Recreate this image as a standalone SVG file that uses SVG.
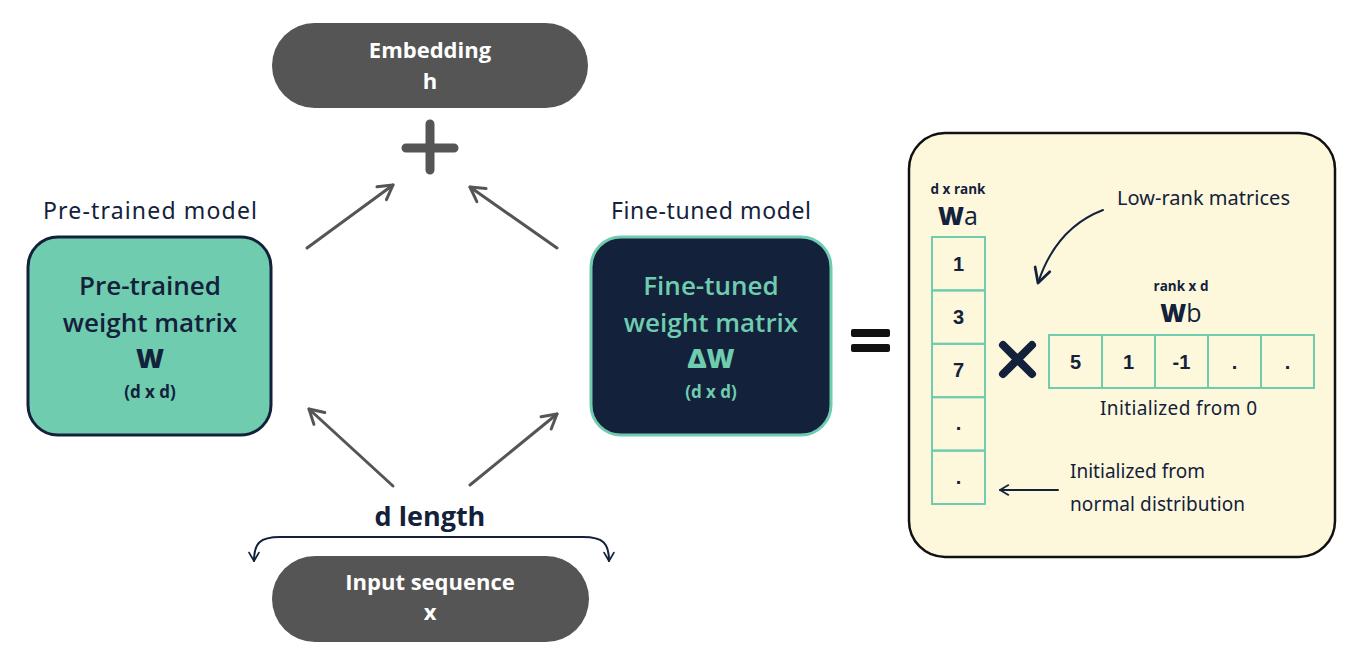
<svg xmlns="http://www.w3.org/2000/svg" width="1362" height="658" viewBox="0 0 1362 658">
<defs>
<style>
.pill{fill:#555555}
.pilltxt{font-family:"Open Sans","Liberation Sans",sans-serif;font-weight:700;fill:#ffffff;text-anchor:middle}
.main{font-family:"Open Sans","Liberation Sans",sans-serif;font-weight:600;text-anchor:middle}
.hand{font-family:"Noto Sans","DejaVu Sans",sans-serif;fill:#13213b}
.cell{fill:none;stroke:#6fccaf;stroke-width:2}
.num{font-family:"Liberation Sans",sans-serif;font-weight:700;font-size:20px;fill:#13213b;text-anchor:middle}
.small{font-family:"Open Sans","Liberation Sans",sans-serif;font-weight:700;font-size:13.5px;fill:#13213b;text-anchor:middle}
.conn{fill:none;stroke:#555555;stroke-width:3;stroke-linecap:round}
.navyline{fill:none;stroke:#13213b;stroke-width:2;stroke-linecap:round}
</style>
<marker id="ah" viewBox="0 0 20 20" refX="16" refY="10" markerWidth="20" markerHeight="20" markerUnits="userSpaceOnUse" orient="auto">
<path d="M2,2 L16,10 L2,18" fill="none" stroke="#555555" stroke-width="3" stroke-linecap="round" stroke-linejoin="round"/>
</marker>
<marker id="ahn" viewBox="0 0 20 20" refX="16" refY="10" markerWidth="14" markerHeight="14" markerUnits="userSpaceOnUse" orient="auto">
<path d="M4,3 L16,10 L4,17" fill="none" stroke="#13213b" stroke-width="2.5" stroke-linecap="round" stroke-linejoin="round"/>
</marker>
<marker id="ahns" viewBox="0 0 20 20" refX="16" refY="10" markerWidth="14" markerHeight="14" markerUnits="userSpaceOnUse" orient="auto-start-reverse">
<path d="M4,3 L16,10 L4,17" fill="none" stroke="#13213b" stroke-width="2.5" stroke-linecap="round" stroke-linejoin="round"/>
</marker>
<marker id="ahc" viewBox="0 0 20 20" refX="16" refY="10" markerWidth="22" markerHeight="22" markerUnits="userSpaceOnUse" orient="auto">
<path d="M3,3 L16,10 L3,17" fill="none" stroke="#13213b" stroke-width="2.5" stroke-linecap="round" stroke-linejoin="round"/>
</marker>
</defs>
<rect width="1362" height="658" fill="#ffffff"/>

<g id="embedding">
<rect class="pill" x="272" y="23" width="316" height="85" rx="42.5"/>
<text class="pilltxt" x="430" y="58" font-size="22">Embedding</text>
<text class="pilltxt" x="430" y="89" font-size="22">h</text>
</g>

<g id="plus">
<path d="M430,124 V170 M406,148 H454" stroke="#555555" stroke-width="9" stroke-linecap="round" fill="none"/>
</g>

<g id="pretrained">
<text class="hand" x="150" y="219" font-size="23" text-anchor="middle" textLength="214">Pre-trained model</text>
<rect x="28" y="237" width="243" height="198" rx="30" fill="#6fccaf" stroke="#13213b" stroke-width="3"/>
<text class="main" x="150" y="295" font-size="26" fill="#13213b">Pre-trained</text>
<text class="main" x="150" y="332" font-size="26" fill="#13213b">weight matrix</text>
<text class="main" x="150" y="368" font-size="27" fill="#13213b" style="font-weight:800">W</text>
<text class="main" x="150" y="398" font-size="17" fill="#13213b" style="font-weight:700">(d x d)</text>
</g>

<g id="finetuned">
<text class="hand" x="711" y="219" font-size="23" text-anchor="middle" textLength="200">Fine-tuned model</text>
<rect x="591" y="237" width="240" height="198" rx="30" fill="#13213b" stroke="#6fccaf" stroke-width="3"/>
<text class="main" x="711" y="295" font-size="26" fill="#6fccaf">Fine-tuned</text>
<text class="main" x="711" y="332" font-size="26" fill="#6fccaf">weight matrix</text>
<text class="main" x="711" y="368" font-size="27" fill="#6fccaf" style="font-weight:800">ΔW</text>
<text class="main" x="711" y="398" font-size="17" fill="#6fccaf" style="font-weight:700">(d x d)</text>
</g>

<g id="equals">
<rect x="851" y="329" width="39" height="8" rx="2" fill="#111111"/>
<rect x="851" y="344" width="39" height="8" rx="2" fill="#111111"/>
</g>

<g id="input">
<text class="main" x="430" y="526" font-size="27" fill="#13213b" style="font-weight:700">d length</text>
<rect class="pill" x="272" y="556" width="317" height="86" rx="43"/>
<text class="pilltxt" x="430" y="590" font-size="22">Input sequence</text>
<text class="pilltxt" x="430" y="620" font-size="22">x</text>
</g>

<g id="lora-panel">
<rect x="909" y="133" width="426" height="424" rx="36" fill="#fdf8dc" stroke="#111111" stroke-width="2.5"/>
<text class="small" x="958" y="194">d x rank</text>
<text x="958" y="225" font-family="Open Sans, Liberation Sans, sans-serif" font-size="25" fill="#13213b" text-anchor="middle"><tspan font-weight="800">W</tspan><tspan font-weight="400">a</tspan></text>
<g id="wa-matrix">
<rect class="cell" x="932" y="237" width="53" height="53.4"/>
<rect class="cell" x="932" y="290.4" width="53" height="53.4"/>
<rect class="cell" x="932" y="343.8" width="53" height="53.4"/>
<rect class="cell" x="932" y="397.2" width="53" height="53.4"/>
<rect class="cell" x="932" y="450.6" width="53" height="53.4"/>
<text class="num" x="958.5" y="271">1</text>
<text class="num" x="958.5" y="324">3</text>
<text class="num" x="958.5" y="377">7</text>
<text class="num" x="958.5" y="430">.</text>
<text class="num" x="958.5" y="484">.</text>
</g>
<g id="times">
<path d="M1003,345 L1032,374 M1032,345 L1003,374" stroke="#13213b" stroke-width="8" stroke-linecap="round"/>
</g>
<text class="small" x="1181" y="291">rank x d</text>
<text x="1181" y="322" font-family="Open Sans, Liberation Sans, sans-serif" font-size="25" fill="#13213b" text-anchor="middle"><tspan font-weight="800">W</tspan><tspan font-weight="400">b</tspan></text>
<g id="wb-matrix">
<rect class="cell" x="1049" y="335" width="53" height="53"/>
<rect class="cell" x="1102" y="335" width="53" height="53"/>
<rect class="cell" x="1155" y="335" width="53" height="53"/>
<rect class="cell" x="1208" y="335" width="53" height="53"/>
<rect class="cell" x="1261" y="335" width="53" height="53"/>
<text class="num" x="1075.5" y="369">5</text>
<text class="num" x="1128.5" y="369">1</text>
<text class="num" x="1181.5" y="369">-1</text>
<text class="num" x="1234.5" y="369">.</text>
<text class="num" x="1287.5" y="369">.</text>
</g>
<text class="hand" x="1117" y="205" font-size="20" textLength="173">Low-rank matrices</text>
<text class="hand" x="1100" y="415" font-size="19" textLength="157">Initialized from 0</text>
<text class="hand" x="1070" y="478" font-size="19" textLength="135">Initialized from</text>
<text class="hand" x="1070" y="511" font-size="19" textLength="175">normal distribution</text>
</g>

<g id="connectors">
<path class="conn" d="M307,248 L393,185" marker-end="url(#ah)"/>
<path class="conn" d="M557,248 L470,187" marker-end="url(#ah)"/>
<path class="conn" d="M393,486 L309,409" marker-end="url(#ah)"/>
<path class="conn" d="M470,485 L557,414" marker-end="url(#ah)"/>
<path class="navyline" d="M254,561 C254,543 260,537 280,537 L583,537 C603,537 609,543 609,561" marker-start="url(#ahns)" marker-end="url(#ahn)"/>
<path class="navyline" d="M1103,210 Q1056,228 1038,283" marker-end="url(#ahc)"/>
<path class="navyline" d="M1058,490 L1000,490" marker-end="url(#ahn)"/>
</g>
</svg>
